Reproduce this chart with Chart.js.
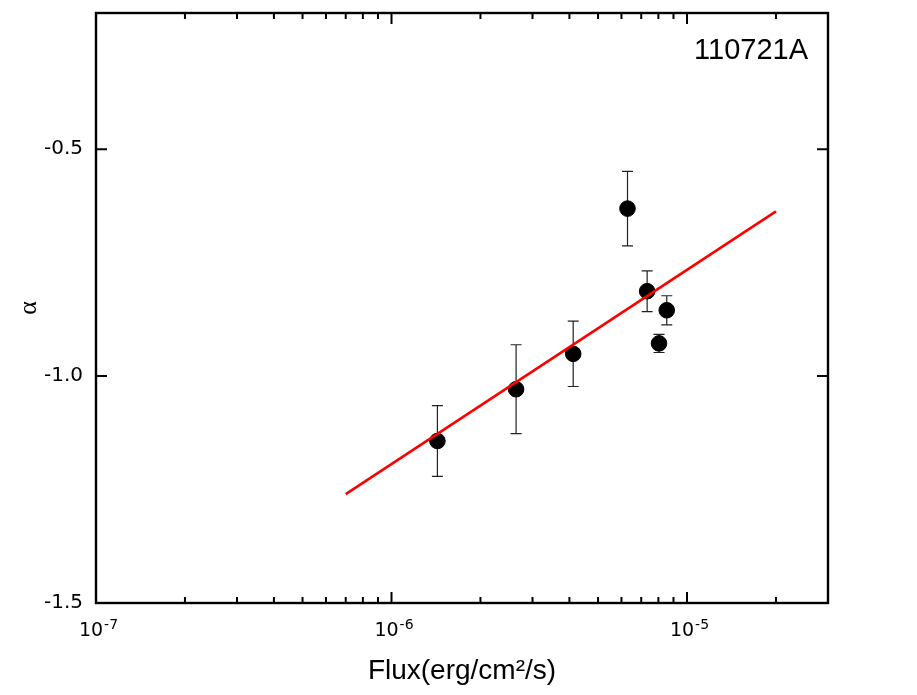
<!DOCTYPE html>
<html><head><meta charset="utf-8">
<script src="https://cdn.jsdelivr.net/npm/chart.js@4.4.0/dist/chart.umd.min.js"></script>
<style>html,body{margin:0;padding:0;background:#fff;}</style>
</head><body>
<canvas id="c" width="917" height="695"></canvas>
<script>
// ---- data ----
const fluxValues  = [1.43e-6, 2.64e-6, 4.12e-6, 6.29e-6, 7.33e-6, 8.54e-6, 8.04e-6];
const alphaValues = [-1.143, -1.029, -0.951, -0.631, -0.813, -0.855, -0.928];
const alphaErrors = [0.078, 0.098, 0.072, 0.082, 0.045, 0.032, 0.020];
const fitFlux  = [7.0e-7, 2.0e-5];
const fitAlpha = [-1.26, -0.637];
const xTickValues = [1e-7, 1e-6, 1e-5];
const xTickBase = ['10', '10', '10'];
const xTickExponents = ['-7', '-6', '-5'];
const yTickValues = [-1.5, -1.0, -0.5];
const xRange = [1e-7, 3e-5];
const yRange = [-1.5, -0.2];
const burstName = '110721A';
const xTitle = 'Flux(erg/cm\u00B2/s)';
const yTitle = '\u03B1';

const pointData = fluxValues.map((x, i) => ({x: x, y: alphaValues[i], err: alphaErrors[i]}));
const fitData = fitFlux.map((x, i) => ({x: x, y: fitAlpha[i]}));

const decorPlugin = {
  id: 'decor',
  beforeDatasetsDraw(chart) {
    const ctx = chart.ctx, xs = chart.scales.x, ys = chart.scales.y;
    ctx.save();
    ctx.strokeStyle = '#222';
    ctx.lineWidth = 1.2;
    pointData.forEach(p => {
      const px = xs.getPixelForValue(p.x);
      const top = ys.getPixelForValue(p.y + p.err);
      const bot = ys.getPixelForValue(p.y - p.err);
      ctx.beginPath();
      ctx.moveTo(px, top); ctx.lineTo(px, bot);
      ctx.moveTo(px - 5.5, top); ctx.lineTo(px + 5.5, top);
      ctx.moveTo(px - 5.5, bot); ctx.lineTo(px + 5.5, bot);
      ctx.stroke();
    });
    ctx.restore();
  },
  afterDraw(chart) {
    const ctx = chart.ctx, xs = chart.scales.x, ys = chart.scales.y;
    const a = chart.chartArea;
    ctx.save();
    ctx.strokeStyle = '#000';
    ctx.lineWidth = 2;
    const major = 11, minor = 6;
    ctx.beginPath();
    const lo = Math.floor(Math.log10(xRange[0])), hi = Math.ceil(Math.log10(xRange[1]));
    for (let k = lo; k <= hi; k++) {
      for (let m = 1; m <= 9; m++) {
        const v = m * Math.pow(10, k);
        if (v < xRange[0] * 0.999 || v > xRange[1] * 1.001) continue;
        const px = xs.getPixelForValue(v);
        const len = (m === 1) ? major : minor;
        ctx.moveTo(px, a.bottom); ctx.lineTo(px, a.bottom - len);
        ctx.moveTo(px, a.top); ctx.lineTo(px, a.top + len);
      }
    }
    yTickValues.forEach(v => {
      const py = ys.getPixelForValue(v);
      ctx.moveTo(a.left, py); ctx.lineTo(a.left + major, py);
      ctx.moveTo(a.right, py); ctx.lineTo(a.right - major, py);
    });
    ctx.stroke();
    ctx.lineWidth = 2.4;
    ctx.strokeRect(a.left, a.top, a.right - a.left, a.bottom - a.top);
    // x tick labels with superscripts
    ctx.fillStyle = '#000';
    ctx.textBaseline = 'alphabetic';
    ctx.textAlign = 'left';
    const baseFont = '19px "DejaVu Sans"', expFont = '14px "DejaVu Sans"';
    xTickValues.forEach((v, i) => {
      const px = xs.getPixelForValue(v);
      ctx.font = baseFont;
      const wb = ctx.measureText(xTickBase[i]).width;
      ctx.font = expFont;
      const we = ctx.measureText(xTickExponents[i]).width;
      const x0 = px - (wb + we) / 2 + 2;
      ctx.font = baseFont;
      ctx.fillText(xTickBase[i], x0, a.bottom + 33);
      ctx.font = expFont;
      ctx.fillText(xTickExponents[i], x0 + wb + 1, a.bottom + 26);
    });
    ctx.font = '29px "Liberation Sans", Arial, sans-serif';
    ctx.textAlign = 'right';
    ctx.fillText(burstName, a.right - 20, a.top + 46);
    ctx.restore();
  }
};

new Chart(document.getElementById('c'), {
  type: 'scatter',
  data: {
    datasets: [
      {
        type: 'line',
        data: fitData,
        borderColor: '#ff0000',
        borderWidth: 2.6,
        pointRadius: 0,
        fill: false,
        tension: 0,
        order: 0
      },
      {
        type: 'scatter',
        data: pointData,
        backgroundColor: '#000',
        borderColor: '#000',
        pointRadius: 7.8,
        pointHoverRadius: 7.8,
        order: 1
      }
    ]
  },
  options: {
    responsive: false,
    devicePixelRatio: 1,
    animation: false,
    events: [],
    layout: {padding: {top: 13, right: 89, left: 0, bottom: 0}},
    plugins: {legend: {display: false}, tooltip: {enabled: false}},
    scales: {
      x: {
        type: 'logarithmic',
        min: xRange[0], max: xRange[1],
        grid: {display: false, drawTicks: false},
        border: {display: false},
        ticks: {display: false},
        afterFit(scale) { scale.height = 92; scale.paddingLeft = 0; scale.paddingRight = 0; },
        title: {
          display: true, text: xTitle, color: '#000',
          font: {family: '"Liberation Sans", Arial, sans-serif', size: 28},
          padding: {top: 0, bottom: 7}
        }
      },
      y: {
        type: 'linear',
        min: yRange[0], max: yRange[1],
        afterBuildTicks(scale) { scale.ticks = yTickValues.map(v => ({value: v})); },
        grid: {display: false, drawTicks: false},
        border: {display: false},
        ticks: {
          color: '#000', padding: 13,
          font: {family: '"DejaVu Sans"', size: 20},
          callback: v => Number(v).toFixed(1)
        },
        afterFit(scale) { scale.width = 96; scale.paddingTop = 0; scale.paddingBottom = 0; },
        title: {
          display: true, text: yTitle, color: '#000',
          font: {family: '"Liberation Serif", serif', size: 26},
          padding: {top: 14, bottom: 0}
        }
      }
    }
  },
  plugins: [decorPlugin]
});
</script>
</body></html>
